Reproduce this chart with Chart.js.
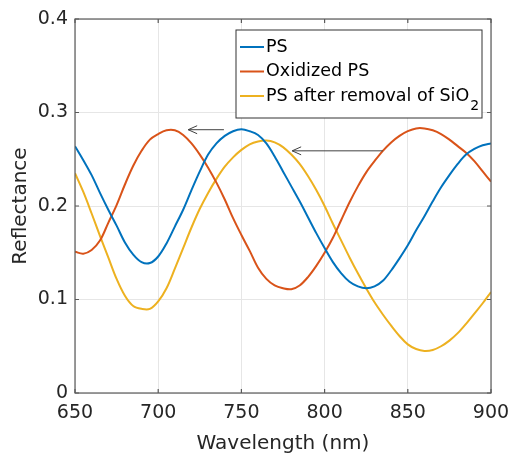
<!DOCTYPE html>
<html>
<head>
<meta charset="utf-8">
<script src="https://cdn.jsdelivr.net/npm/chart.js@4.4.1/dist/chart.umd.min.js"></script>
<style>
  html, body { margin: 0; padding: 0; background: #fff; }
  #wrap { width: 510px; height: 457px; position: relative; }
</style>
</head>
<body>
<div id="wrap"><canvas id="reflectance-chart"></canvas></div>
<script>
const wavelengths = [650, 655, 660, 665, 670, 675, 680, 685, 690, 695,
  700, 705, 710, 715, 720, 725, 730, 735, 740, 745,
  750, 755, 760, 765, 770, 775, 780, 785, 790, 795,
  800, 805, 810, 815, 820, 825, 830, 835, 840, 845,
  850, 855, 860, 865, 870, 875, 880, 885, 890, 895, 900];

const psValues = [0.264, 0.249, 0.233, 0.214, 0.196, 0.179, 0.161, 0.148, 0.140, 0.139,
  0.146, 0.160, 0.178, 0.196, 0.217, 0.237, 0.255, 0.267, 0.275, 0.280,
  0.282, 0.280, 0.276, 0.267, 0.253, 0.237, 0.221, 0.205, 0.188, 0.171,
  0.155, 0.140, 0.128, 0.119, 0.114, 0.112, 0.114, 0.120, 0.131, 0.144,
  0.158, 0.174, 0.189, 0.205, 0.220, 0.233, 0.245, 0.255, 0.261, 0.265, 0.267];

const oxidizedValues = [0.151, 0.149, 0.153, 0.163, 0.182, 0.201, 0.223, 0.243, 0.259, 0.271,
  0.277, 0.281, 0.281, 0.276, 0.267, 0.255, 0.241, 0.225, 0.207, 0.187,
  0.169, 0.152, 0.134, 0.122, 0.115, 0.112, 0.111, 0.115, 0.124, 0.136,
  0.150, 0.166, 0.185, 0.204, 0.221, 0.236, 0.248, 0.259, 0.268, 0.275,
  0.280, 0.283, 0.283, 0.281, 0.277, 0.271, 0.264, 0.257, 0.248, 0.237, 0.226];

const removedValues = [0.235, 0.215, 0.192, 0.168, 0.145, 0.122, 0.104, 0.093, 0.090, 0.090,
  0.098, 0.112, 0.133, 0.155, 0.177, 0.197, 0.214, 0.229, 0.242, 0.252,
  0.260, 0.266, 0.269, 0.270, 0.268, 0.263, 0.255, 0.245, 0.232, 0.217,
  0.200, 0.181, 0.163, 0.145, 0.128, 0.112, 0.097, 0.084, 0.072, 0.061,
  0.052, 0.047, 0.045, 0.046, 0.050, 0.056, 0.064, 0.074, 0.085, 0.096, 0.108];

const seriesLabels = ['PS', 'Oxidized PS', 'PS after removal of SiO₂'];
const seriesColors = ['#0072BD', '#D95319', '#EDB120'];

const xTicks = [650, 700, 750, 800, 850, 900];
const yTicks = [0, 0.1, 0.2, 0.3, 0.4];

// shift arrows (start wavelength, end wavelength, reflectance level)
const arrowStarts = [739.5, 835];
const arrowEnds = [718, 780.5];
const arrowLevels = [0.2816, 0.259];

const toPoints = (vals) => wavelengths.map((w, i) => ({ x: w, y: vals[i] }));

Chart.defaults.font.family = "'DejaVu Sans', sans-serif";
Chart.defaults.color = '#262626';

// box around axes + inward ticks like matlab
const axesBox = {
  id: 'axesBox',
  afterDraw(chart) {
    const { ctx, chartArea: a, scales } = chart;
    ctx.save();
    ctx.strokeStyle = '#5a5a5a';
    ctx.lineWidth = 1.2;
    ctx.strokeRect(a.left, a.top, a.right - a.left, a.bottom - a.top);
    ctx.beginPath();
    xTicks.forEach(v => {
      const px = scales.x.getPixelForValue(v);
      ctx.moveTo(px, a.bottom); ctx.lineTo(px, a.bottom - 4);
      ctx.moveTo(px, a.top); ctx.lineTo(px, a.top + 4);
    });
    yTicks.forEach(v => {
      const py = scales.y.getPixelForValue(v);
      ctx.moveTo(a.left, py); ctx.lineTo(a.left + 4, py);
      ctx.moveTo(a.right, py); ctx.lineTo(a.right - 4, py);
    });
    ctx.stroke();
    ctx.restore();
  }
};

const shiftArrowsPlugin = {
  id: 'shiftArrows',
  afterDatasetsDraw(chart) {
    const { ctx, scales } = chart;
    ctx.save();
    ctx.strokeStyle = '#404040';
    ctx.lineWidth = 1;
    arrowStarts.forEach((s, i) => {
      const x1 = scales.x.getPixelForValue(s);
      const x2 = scales.x.getPixelForValue(arrowEnds[i]);
      const y = scales.y.getPixelForValue(arrowLevels[i]);
      ctx.beginPath();
      ctx.moveTo(x1, y); ctx.lineTo(x2, y);
      ctx.moveTo(x2 + 9, y - 4); ctx.lineTo(x2, y); ctx.lineTo(x2 + 9, y + 4);
      ctx.stroke();
    });
    ctx.restore();
  }
};

const legendInside = {
  id: 'legendInside',
  afterDraw(chart) {
    const { ctx, chartArea: a } = chart;
    const w = 246, h = 88;
    const x0 = a.right - 9 - w, y0 = a.top + 11;
    ctx.save();
    ctx.fillStyle = '#fff';
    ctx.fillRect(x0, y0, w, h);
    ctx.strokeStyle = '#333';
    ctx.lineWidth = 1;
    ctx.strokeRect(x0, y0, w, h);
    ctx.textBaseline = 'middle';
    ctx.textAlign = 'left';
    chart.data.datasets.forEach((ds, i) => {
      const y = y0 + 17 + i * 24.5;
      ctx.strokeStyle = ds.borderColor;
      ctx.lineWidth = 2;
      ctx.beginPath();
      ctx.moveTo(x0 + 4, y); ctx.lineTo(x0 + 28, y);
      ctx.stroke();
      ctx.fillStyle = '#000';
      ctx.font = "17.5px 'DejaVu Sans'";
      let label = ds.label;
      if (label.endsWith('₂')) {
        const main = label.slice(0, -1);
        ctx.fillText(main, x0 + 30, y);
        const mw = ctx.measureText(main).width;
        ctx.font = "14px 'DejaVu Sans'";
        ctx.fillText('2', x0 + 30 + mw + 1, y + 10);
      } else {
        ctx.fillText(label, x0 + 30, y);
      }
    });
    ctx.restore();
  }
};

new Chart(document.getElementById('reflectance-chart'), {
  type: 'line',
  data: {
    datasets: [
      { label: seriesLabels[0], data: toPoints(psValues), borderColor: seriesColors[0] },
      { label: seriesLabels[1], data: toPoints(oxidizedValues), borderColor: seriesColors[1] },
      { label: seriesLabels[2], data: toPoints(removedValues), borderColor: seriesColors[2] }
    ]
  },
  options: {
    responsive: true,
    maintainAspectRatio: false,
    animation: false,
    layout: { padding: { top: 19, right: 19, left: 0, bottom: 0 } },
    elements: {
      point: { radius: 0 },
      line: { borderWidth: 2, tension: 0.35, fill: false }
    },
    plugins: {
      legend: { display: false },
      tooltip: { enabled: false }
    },
    scales: {
      x: {
        type: 'linear',
        min: 650, max: 900,
        afterBuildTicks: (s) => { s.ticks = xTicks.map(v => ({ value: v })); },
        afterFit: (s) => { s.height = 64; s.paddingLeft = 0; s.paddingRight = 0; },
        grid: { color: '#e6e6e6', drawTicks: false },
        border: { display: false },
        ticks: { padding: 9, font: { size: 19 }, color: '#262626' },
        title: { display: true, text: 'Wavelength (nm)', font: { size: 20 }, color: '#262626', padding: { top: 0, bottom: 1 } }
      },
      y: {
        min: 0, max: 0.4,
        afterBuildTicks: (s) => { s.ticks = yTicks.map(v => ({ value: v })); },
        afterFit: (s) => { s.width = 75; s.paddingTop = 0; s.paddingBottom = 0; },
        grid: { color: '#e6e6e6', drawTicks: false },
        border: { display: false },
        ticks: {
          padding: 7, font: { size: 19 }, color: '#262626',
          callback: (v) => v === 0 ? '0' : v.toFixed(1)
        },
        title: { display: true, text: 'Reflectance', font: { size: 20 }, color: '#262626', padding: { top: 9, bottom: 0 } }
      }
    }
  },
  plugins: [shiftArrowsPlugin, axesBox, legendInside]
});
</script>
</body>
</html>
